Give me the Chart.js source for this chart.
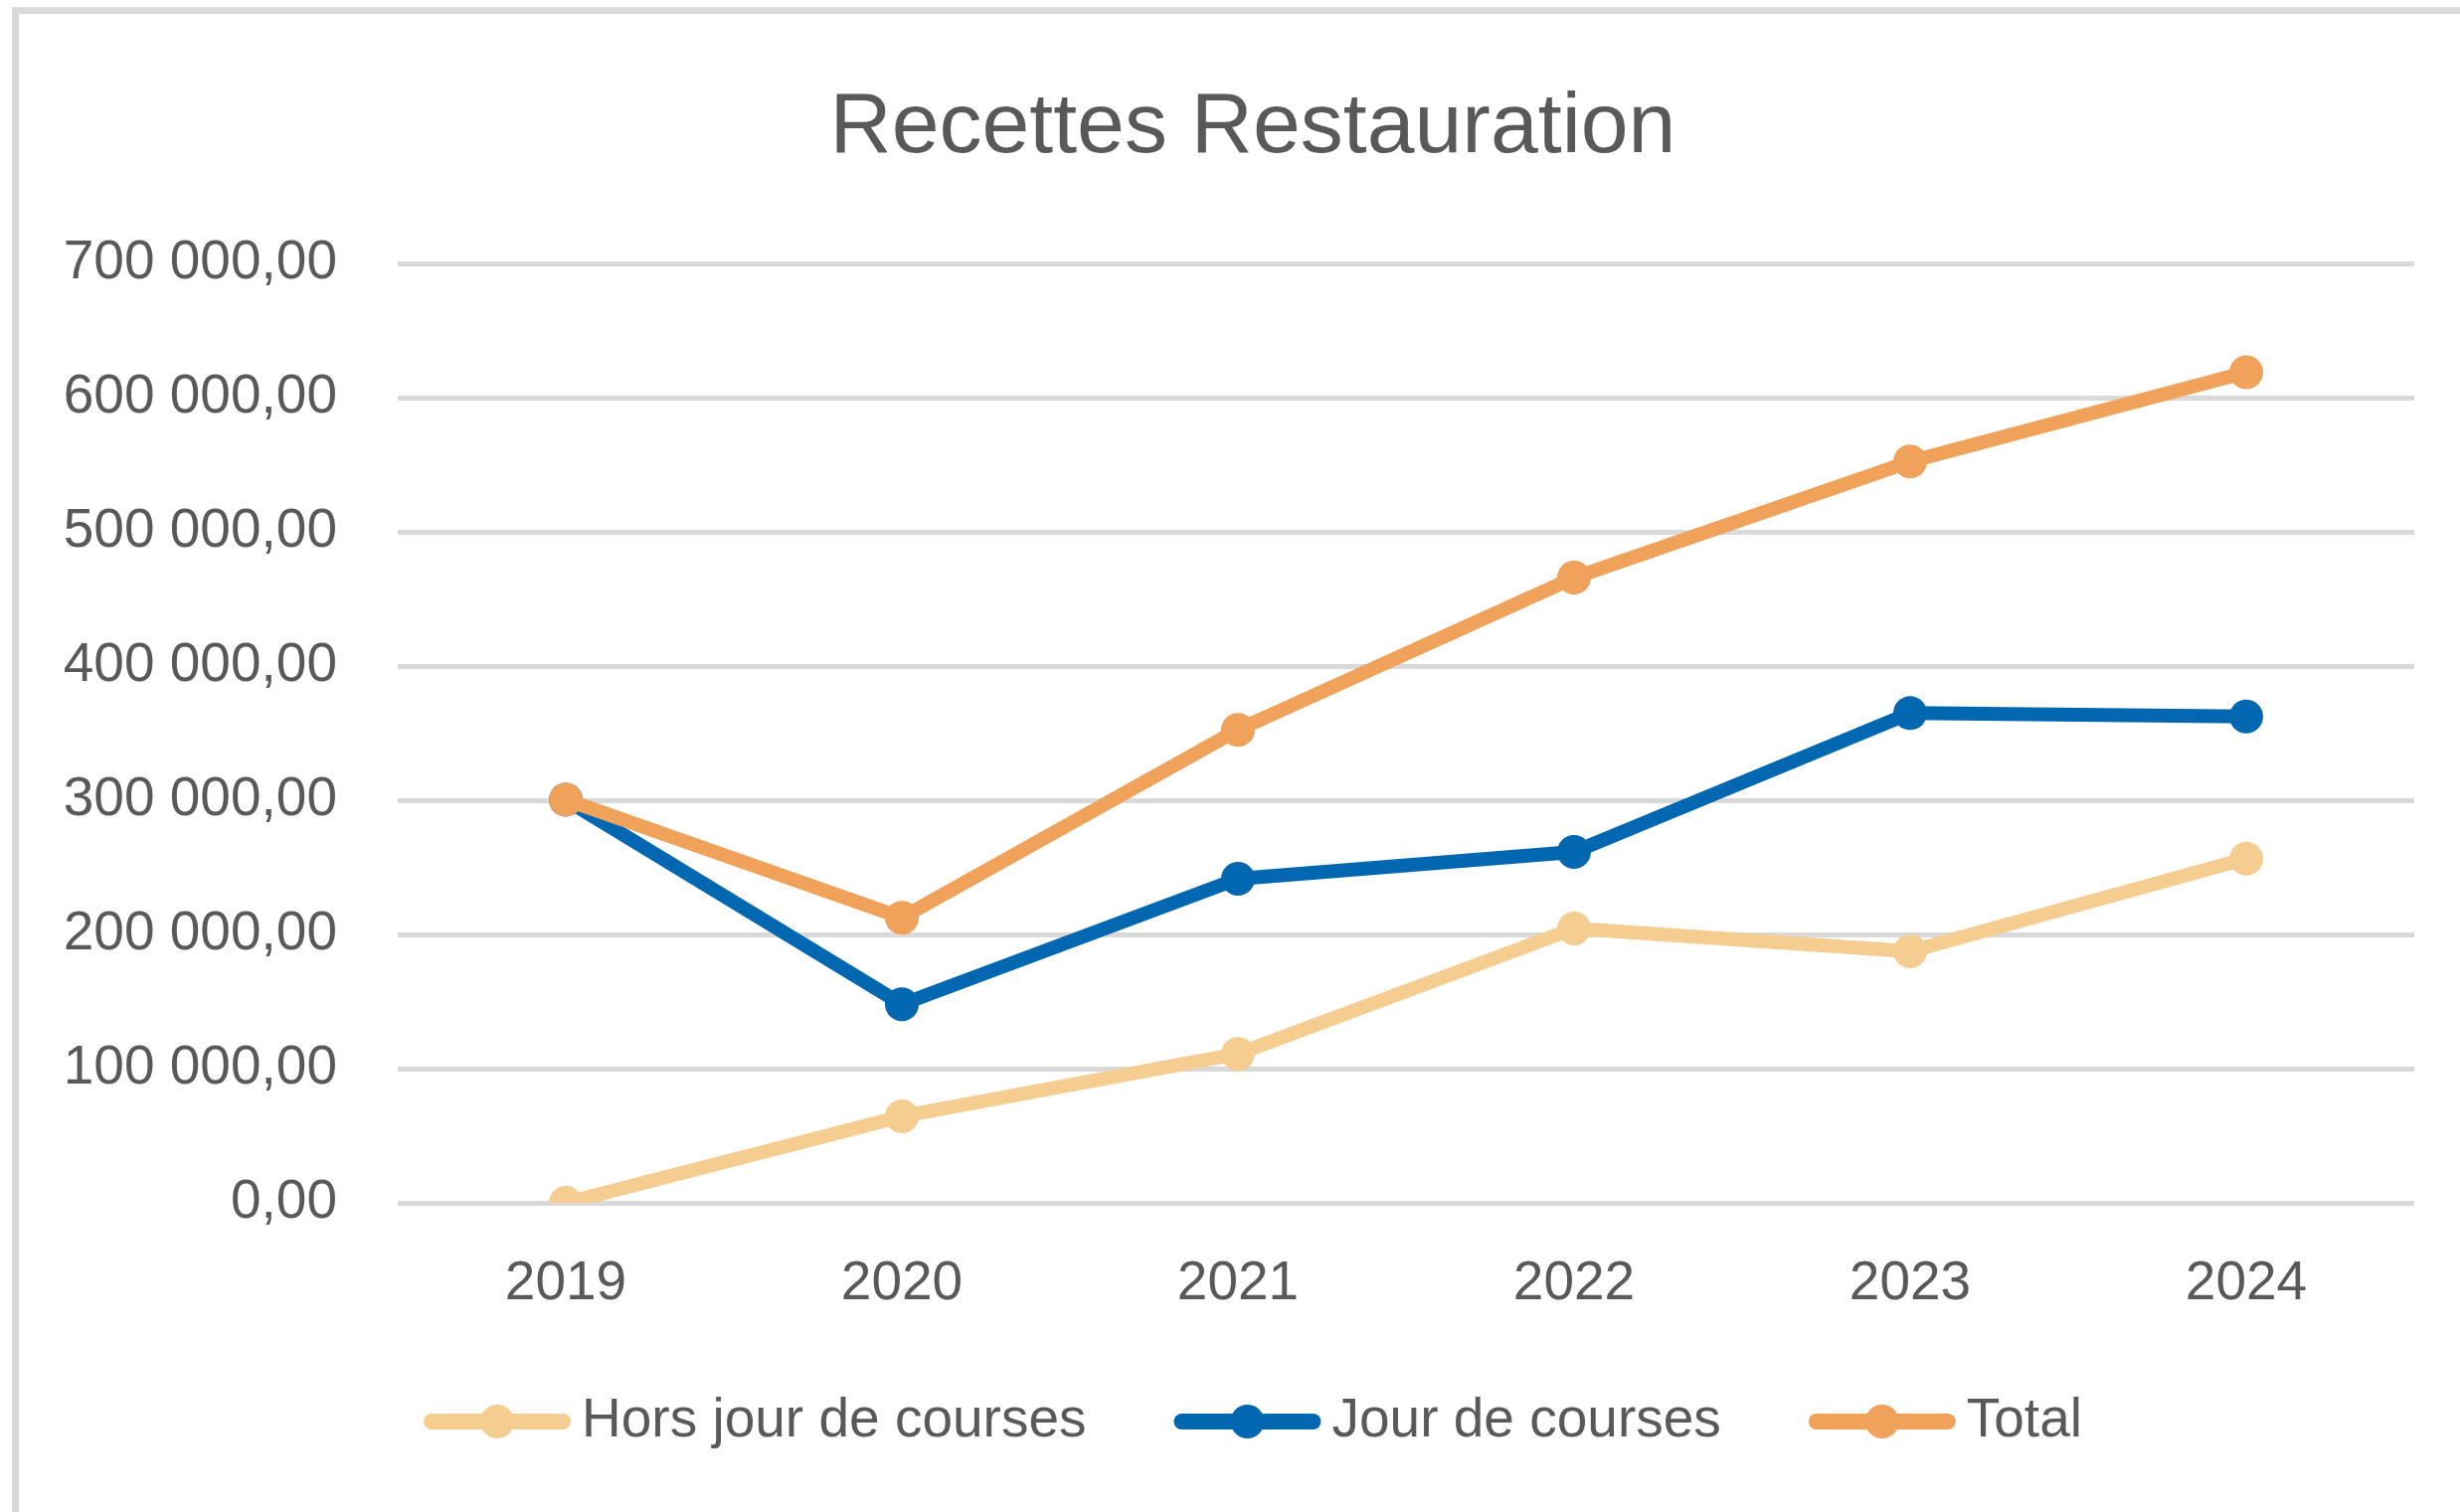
<!DOCTYPE html>
<html>
<head>
<meta charset="utf-8">
<title>Recettes Restauration</title>
<script src="https://cdn.jsdelivr.net/npm/chart.js@4.4.1/dist/chart.umd.min.js"></script>
<style>
  html, body { margin: 0; padding: 0; background: #ffffff; }
  #frame {
    position: absolute; left: 12px; top: 7px; right: 0; bottom: 0;
    border-top: 7px solid #d9d9d9; border-left: 7px solid #d9d9d9;
  }
  #chart { position: absolute; left: 0; top: 0; display: block; }
</style>
</head>
<body>
<div id="frame"></div>
<canvas id="chart" width="2474" height="1521"></canvas>
<script>
// Recettes restauration par année
const years = ['2019', '2020', '2021', '2022', '2023', '2024'];
const horsJour = [0, 64500, 111000, 204500, 187500, 256500];
const jourCourses = [300500, 148000, 241500, 261500, 365000, 362500];
const total = [300500, 212500, 352500, 466000, 552500, 619000];

const seriesLabels = ['Hors jour de courses', 'Jour de courses', 'Total'];
const seriesColors = ['#F5CD91', '#0067B0', '#F0A15A'];

const FONT = '"Liberation Sans", Arial, sans-serif';
const TEXT_COLOR = '#595959';
const TITLE_LEFT = 92; // title / legend are centred a bit right of the canvas middle

/**
 * Format a number the French way: "700 000,00"
 */
function formatFr(value) {
    const parts = Number(value).toFixed(2).split('.');
    const intPart = parts[0].replace(/\B(?=(\d{3})+(?!\d))/g, ' ');
    return intPart + ',' + parts[1];
}

function makeDataset(label, data, color, order) {
    return {
        label: label,
        data: data,
        borderColor: color,
        backgroundColor: color,
        pointBackgroundColor: color,
        pointBorderColor: color,
        borderWidth: 14,
        pointRadius: 17,
        pointBorderWidth: 0,
        borderCapStyle: 'round',
        borderJoinStyle: 'round',
        tension: 0,
        order: order
    };
}

// Shift the title block so it is centred like in Excel
const titleShift = {
    id: 'titleShift',
    afterLayout(chart) {
        const tb = chart.titleBlock;
        tb.left = TITLE_LEFT;
        tb.width = tb.right - tb.left;
    }
};

// Legend drawn as line + dot, like the Excel one
const lineLegend = {
    id: 'lineLegend',
    afterDraw(chart) {
        const ctx = chart.ctx;
        const lineLen = 148;
        const textGap = 11;
        const itemGap = 88;
        const y = 1430;

        ctx.save();
        ctx.font = '55px ' + FONT;
        const items = chart.data.datasets.map(ds => ({
            label: ds.label,
            color: ds.borderColor,
            textWidth: ctx.measureText(ds.label).width
        }));
        const totalWidth = items.reduce((s, it) => s + lineLen + textGap + it.textWidth, 0)
            + itemGap * (items.length - 1);

        const tb = chart.titleBlock;
        const center = (tb.left + tb.right) / 2;
        let x = center - totalWidth / 2;

        items.forEach(it => {
            ctx.strokeStyle = it.color;
            ctx.lineWidth = 16;
            ctx.lineCap = 'round';
            ctx.beginPath();
            ctx.moveTo(x + 8, y);
            ctx.lineTo(x + lineLen - 8, y);
            ctx.stroke();

            ctx.fillStyle = it.color;
            ctx.beginPath();
            ctx.arc(x + lineLen / 2, y, 17, 0, Math.PI * 2);
            ctx.fill();

            ctx.fillStyle = TEXT_COLOR;
            ctx.textAlign = 'left';
            ctx.textBaseline = 'middle';
            ctx.fillText(it.label, x + lineLen + textGap, y);

            x += lineLen + textGap + it.textWidth + itemGap;
        });
        ctx.restore();
    }
};

const ctx = document.getElementById('chart');

new Chart(ctx, {
    type: 'line',
    data: {
        labels: years,
        datasets: [
            makeDataset(seriesLabels[0], horsJour, seriesColors[0], 3),
            makeDataset(seriesLabels[1], jourCourses, seriesColors[1], 2),
            makeDataset(seriesLabels[2], total, seriesColors[2], 1)
        ]
    },
    options: {
        responsive: false,
        animation: false,
        devicePixelRatio: 1,
        layout: {
            padding: { left: 0, right: 46, top: 0, bottom: 0 }
        },
        plugins: {
            title: {
                display: true,
                text: 'Recettes Restauration',
                color: TEXT_COLOR,
                font: { family: FONT, size: 86, weight: 'normal', lineHeight: 1.2 },
                padding: { top: 78, bottom: 84 }
            },
            legend: { display: false },
            tooltip: { enabled: false }
        },
        scales: {
            x: {
                offset: true,
                grid: { display: false, drawTicks: false },
                border: { display: false },
                ticks: {
                    color: TEXT_COLOR,
                    font: { family: FONT, size: 55 },
                    padding: 49,
                    maxRotation: 0
                },
                afterFit: (scale) => { scale.height = 311; }
            },
            y: {
                min: 0,
                max: 700000,
                grid: { color: '#d9d9d9', lineWidth: 5, drawTicks: false },
                border: { display: false },
                ticks: {
                    stepSize: 100000,
                    color: TEXT_COLOR,
                    font: { family: FONT, size: 55 },
                    padding: 61,
                    callback: (value) => formatFr(value)
                },
                afterFit: (scale) => { scale.width = 400; }
            }
        }
    },
    plugins: [titleShift, lineLegend]
});
</script>
</body>
</html>
